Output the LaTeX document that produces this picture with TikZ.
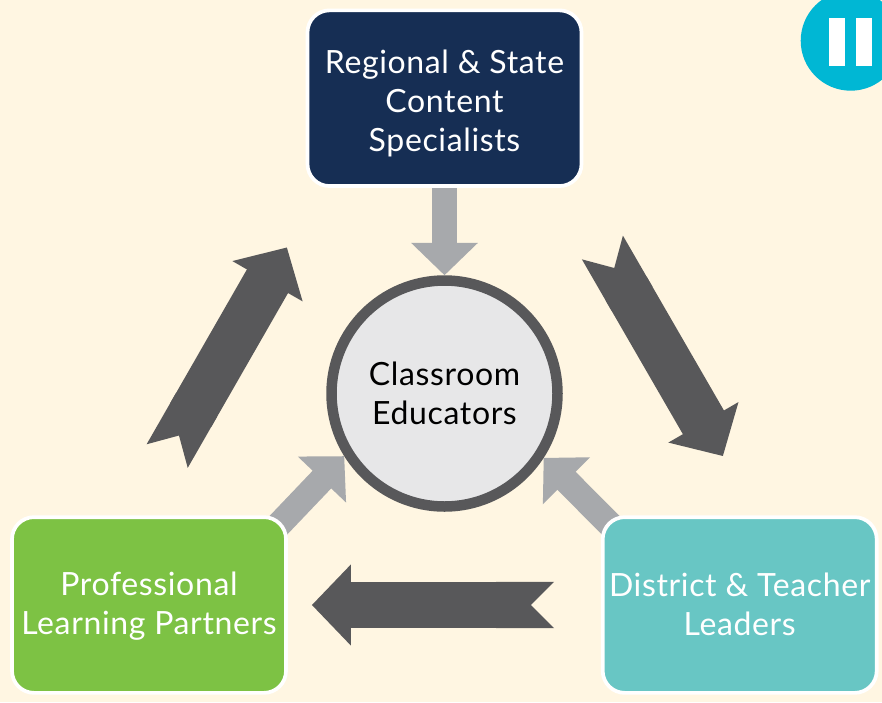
\documentclass[tikz,border=0pt]{standalone}
\usepackage{fontspec}
\setmainfont[LetterSpace=2]{Lato}
\usetikzlibrary{arrows.meta,backgrounds}
\definecolor{pagecolor}{RGB}{255, 246, 226}
\definecolor{darkarrowcolor}{RGB}{88, 88, 90}
\definecolor{grayarrowcolor}{RGB}{167, 169, 172}
\definecolor{hubcolor}{RGB}{231, 231, 232}
\definecolor{regionalcolor}{RGB}{22, 46, 84}
\definecolor{partnercolor}{RGB}{125, 194, 68}
\definecolor{districtcolor}{RGB}{104, 198, 196}
\definecolor{pausecolor}{RGB}{0, 183, 212}

\begin{document}
\begin{tikzpicture}[x=1pt,y=-1pt,
    box/.style={draw=white, line width=3.7pt, rounded corners=22pt, minimum width=274pt, minimum height=175.7pt, text=white, align=center, font=\fontsize{32}{39}\selectfont},
    hub/.style={circle, draw=darkarrowcolor, line width=10.5pt, fill=hubcolor, minimum size=226pt, inner sep=0pt, align=center, font=\fontsize{32}{39}\selectfont},
    grayarrow/.style={draw=grayarrowcolor, line width=25.6pt, -{Triangle[length=32.3pt,width=64.7pt]}},
    darkarrow/.style={draw=darkarrowcolor, line width=47.4pt, {Triangle Cap[reversed]}-{Triangle[length=39pt,width=78.7pt]}},
    pausebar/.style={fill=white, minimum width=16pt, minimum height=48pt, inner sep=0pt}
    ]
    \useasboundingbox (0,0) rectangle (882,702);

    % Define boxes
    \node[box, fill=regionalcolor] (regional) at (444.5,98.2) {\rule{0pt}{34pt}Regional \& State\\Content\\Specialists};
    \node[box, fill=partnercolor] (partners) at (149,605) {\rule{0pt}{26pt}Professional\\Learning Partners};
    \node[box, fill=districtcolor] (district) at (739.7,605) {District \& Teacher\\\rule[-2pt]{0pt}{2pt}Leaders};
    \node[hub] (educators) at (444.5,393.5) {Classroom\\Educators};

    % Pause badge
    \node[circle, fill=pausecolor, minimum size=100pt, inner sep=0pt] (pause) at (850.7,40.7) {};
    \foreach \i/\x in {1/837,2/864} {
        \node[pausebar] (bar\i) at (\x,42) {};
    }

    % Define arrows
    \begin{scope}[on background layer]
        \fill[pagecolor] (0,0) rectangle (882,702);
        \draw[grayarrow] (regional.south) -- (educators.north);
        \draw[grayarrow, shorten <=-20pt] (partners.north east) -- (educators.212.6);
        \draw[grayarrow, shorten <=-20pt] (district.north west) -- (educators.-33.3);
        \draw[darkarrow, shorten <=68.8pt, shorten >=68.4pt] (regional.-36) -- (district.79.6);
        \draw[darkarrow, line width=46.4pt, shorten <=46.8pt, shorten >=24pt] (district.west) -- (partners.east);
        \draw[darkarrow, shorten <=68.3pt, shorten >=68.6pt] (partners.100.5) -- (regional.216);
    \end{scope}
\end{tikzpicture}
\end{document}
